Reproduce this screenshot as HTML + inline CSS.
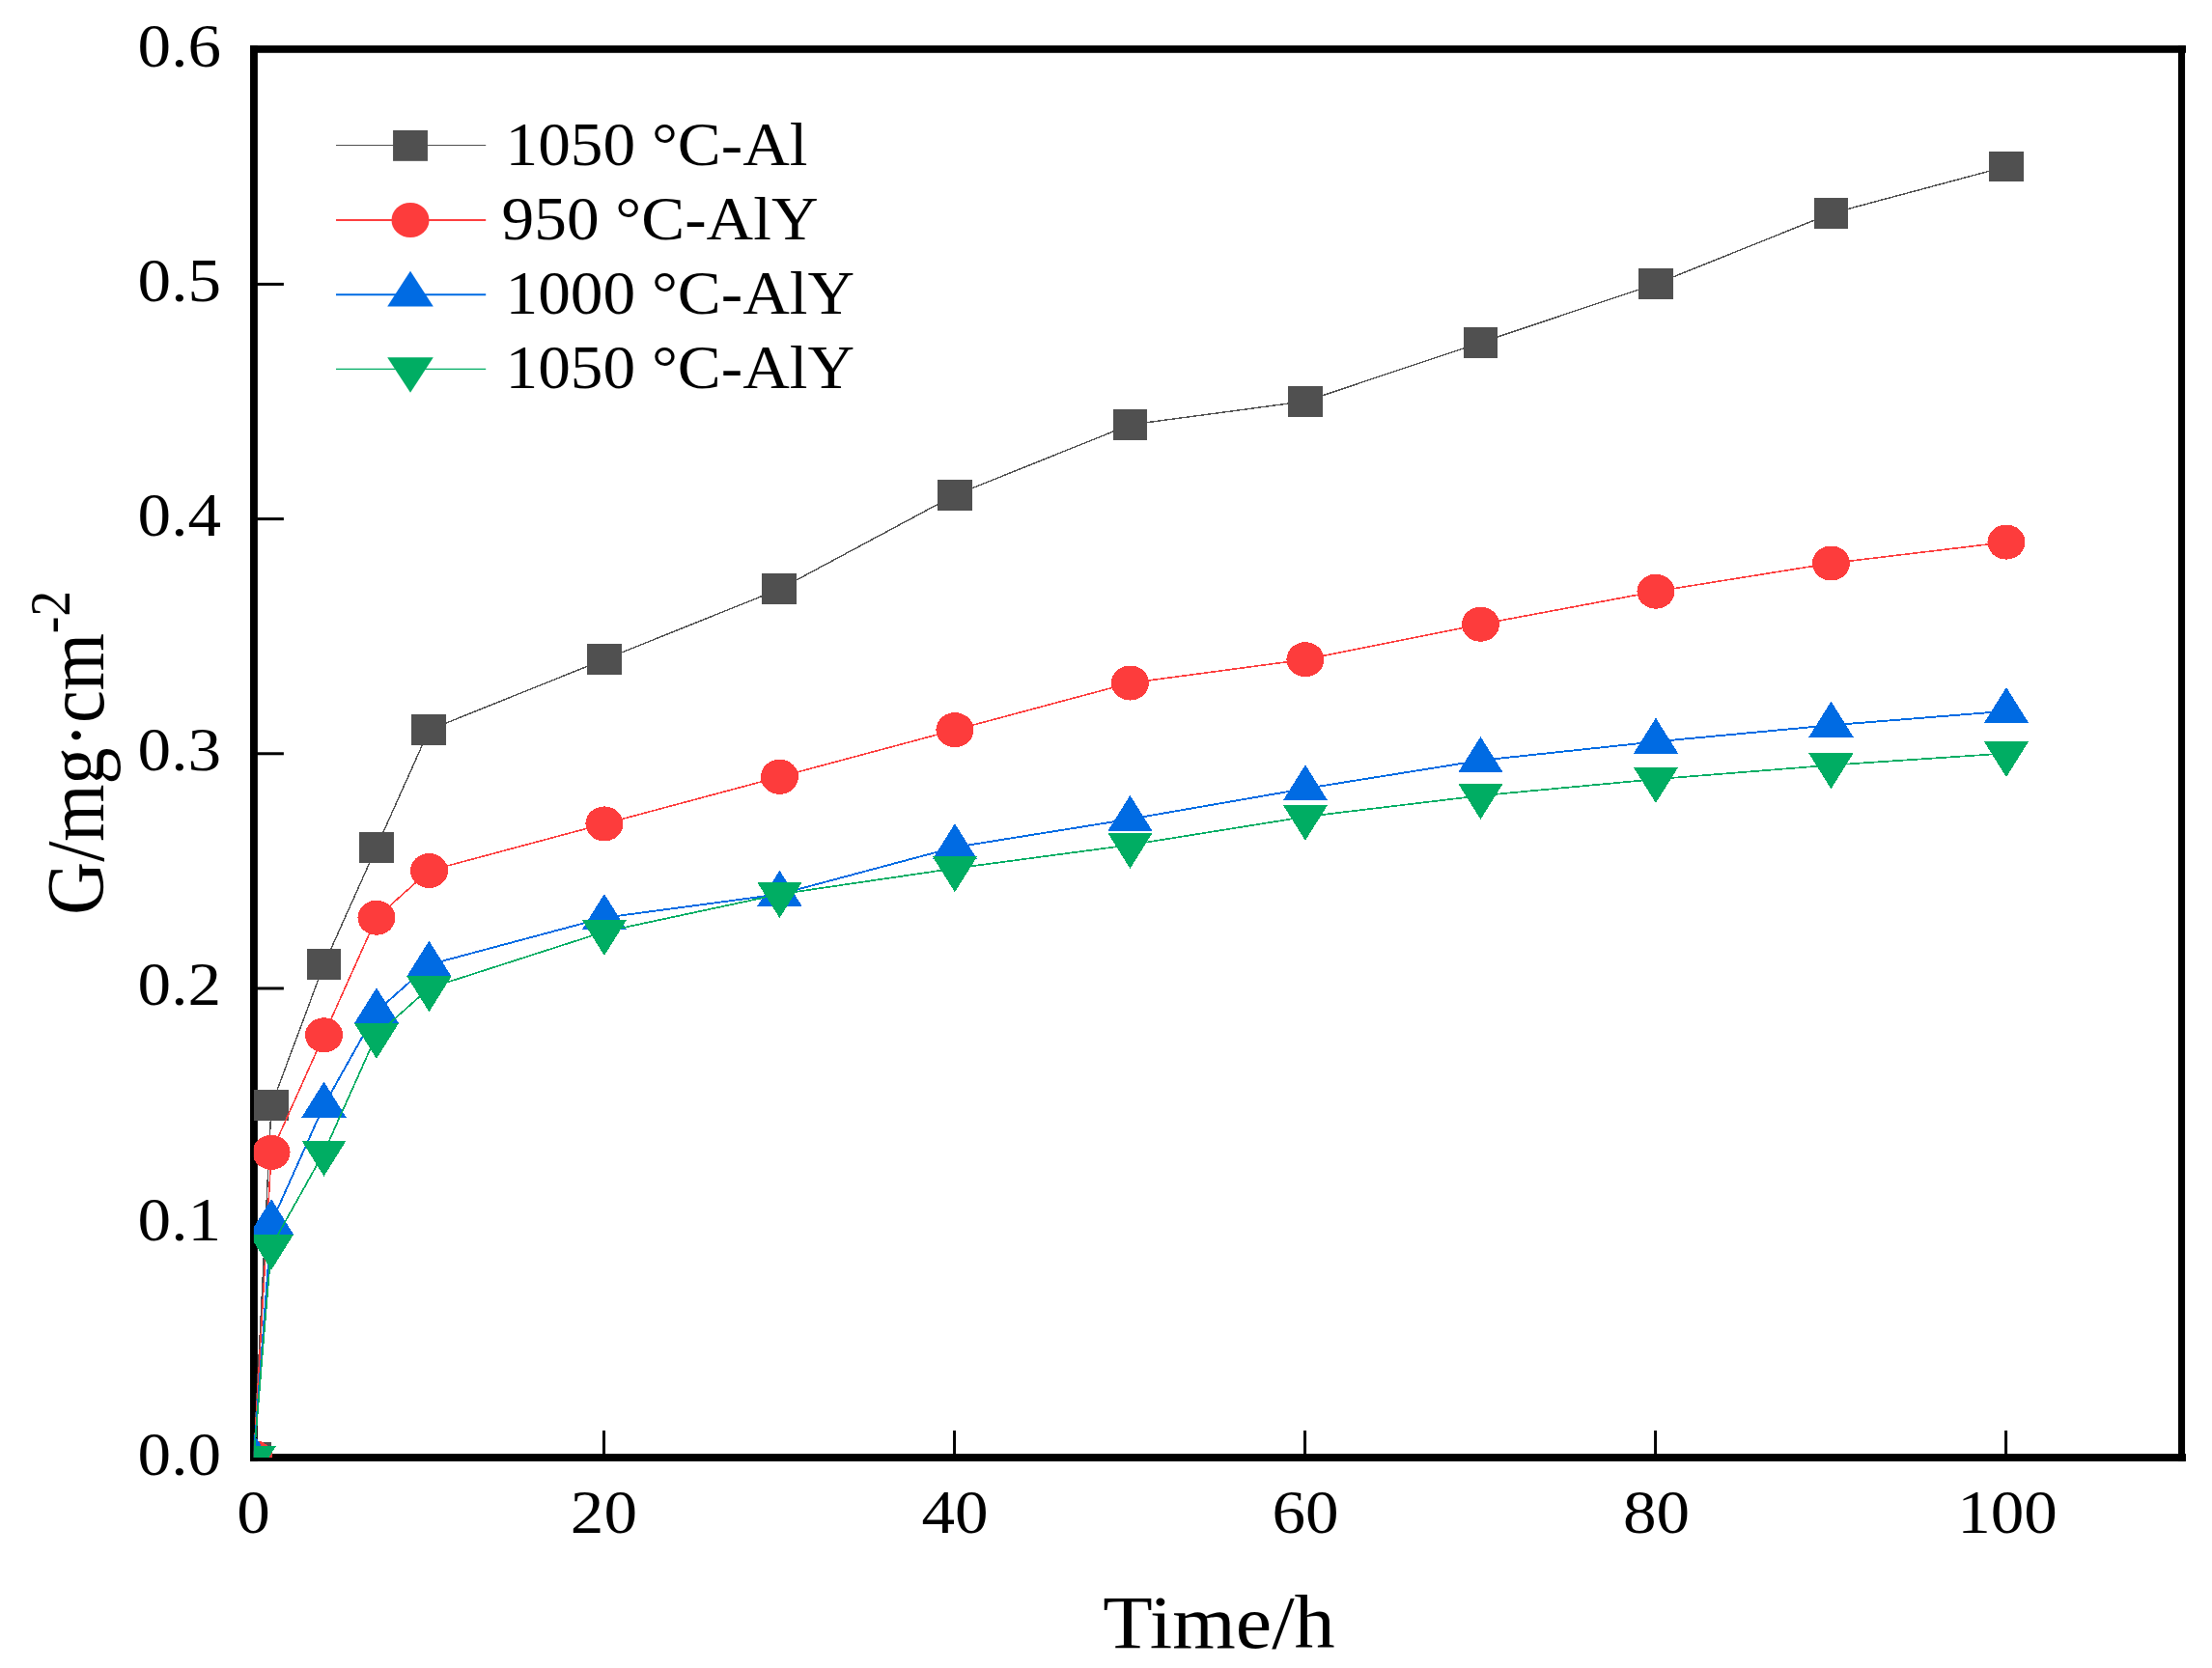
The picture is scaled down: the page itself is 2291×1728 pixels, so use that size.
<!DOCTYPE html>
<html lang="en"><head><meta charset="utf-8"><title>Oxidation kinetics</title>
<style>
html,body{margin:0;padding:0;background:#fff;}
body{width:2291px;height:1728px;overflow:hidden;}
svg{display:block;}
text{font-family:"Liberation Serif",serif;fill:#000;}
.tk{font-size:64px;}
.lg{font-size:62.5px;}
.ti{font-size:78px;}
</style></head><body>
<svg width="2291" height="1728" viewBox="0 0 2291 1728">
<rect x="0" y="0" width="2291" height="1728" fill="#fff"/>
<defs><clipPath id="cp"><rect x="262.90" y="50.95" width="1996.60" height="1459.05"/></clipPath></defs>

<rect x="259" y="47.1" width="7.9" height="1466.8" fill="#000"/>
<rect x="259" y="47.1" width="2005" height="7.7" fill="#000"/>
<rect x="2256" y="47.1" width="7.05" height="1466.8" fill="#000"/>
<rect x="259" y="1506.1" width="2005" height="7.8" fill="#000"/>
<line x1="625.52" y1="1510.00" x2="625.52" y2="1482.00" stroke="#000" stroke-width="3.0"/>
<line x1="988.54" y1="1510.00" x2="988.54" y2="1482.00" stroke="#000" stroke-width="3.0"/>
<line x1="1351.55" y1="1510.00" x2="1351.55" y2="1482.00" stroke="#000" stroke-width="3.0"/>
<line x1="1714.57" y1="1510.00" x2="1714.57" y2="1482.00" stroke="#000" stroke-width="3.0"/>
<line x1="2077.59" y1="1510.00" x2="2077.59" y2="1482.00" stroke="#000" stroke-width="3.0"/>
<line x1="262.90" y1="1267.12" x2="293.9" y2="1267.12" stroke="#000" stroke-width="3.0"/>
<line x1="262.90" y1="1023.95" x2="293.9" y2="1023.95" stroke="#000" stroke-width="3.0"/>
<line x1="262.90" y1="780.77" x2="293.9" y2="780.77" stroke="#000" stroke-width="3.0"/>
<line x1="262.90" y1="537.60" x2="293.9" y2="537.60" stroke="#000" stroke-width="3.0"/>
<line x1="262.90" y1="294.43" x2="293.9" y2="294.43" stroke="#000" stroke-width="3.0"/>
<g clip-path="url(#cp)" shape-rendering="crispEdges">
<polyline points="262.90,1510.00 281.05,1145.24 335.50,999.33 389.96,877.75 444.41,756.16 625.92,683.20 807.43,610.25 988.94,512.98 1170.45,440.03 1351.95,415.71 1533.46,354.92 1714.97,294.12 1896.48,221.17 2077.99,172.54" fill="none" stroke="#505050" stroke-width="1.4" stroke-linejoin="round"/>
<rect x="244.95" y="1494.08" width="35.9" height="31.85" fill="#505050"/>
<rect x="263.10" y="1129.31" width="35.9" height="31.85" fill="#505050"/>
<rect x="317.55" y="983.41" width="35.9" height="31.85" fill="#505050"/>
<rect x="372.01" y="861.82" width="35.9" height="31.85" fill="#505050"/>
<rect x="426.46" y="740.23" width="35.9" height="31.85" fill="#505050"/>
<rect x="607.97" y="667.28" width="35.9" height="31.85" fill="#505050"/>
<rect x="789.48" y="594.33" width="35.9" height="31.85" fill="#505050"/>
<rect x="970.99" y="497.06" width="35.9" height="31.85" fill="#505050"/>
<rect x="1152.50" y="424.10" width="35.9" height="31.85" fill="#505050"/>
<rect x="1334.00" y="399.79" width="35.9" height="31.85" fill="#505050"/>
<rect x="1515.51" y="338.99" width="35.9" height="31.85" fill="#505050"/>
<rect x="1697.02" y="278.20" width="35.9" height="31.85" fill="#505050"/>
<rect x="1878.53" y="205.25" width="35.9" height="31.85" fill="#505050"/>
<rect x="2060.04" y="156.61" width="35.9" height="31.85" fill="#505050"/>
<polyline points="262.90,1510.00 281.05,1193.87 335.50,1072.29 389.96,950.70 444.41,902.06 625.92,853.43 807.43,804.79 988.94,756.16 1170.45,707.52 1351.95,683.20 1533.46,646.73 1714.97,612.68 1896.48,583.50 2077.99,561.62" fill="none" stroke="#FD3C3C" stroke-width="1.6" stroke-linejoin="round"/>
<ellipse cx="262.90" cy="1510.00" rx="19.5" ry="18.0" fill="#FD3C3C"/>
<ellipse cx="281.05" cy="1193.87" rx="19.5" ry="18.0" fill="#FD3C3C"/>
<ellipse cx="335.50" cy="1072.29" rx="19.5" ry="18.0" fill="#FD3C3C"/>
<ellipse cx="389.96" cy="950.70" rx="19.5" ry="18.0" fill="#FD3C3C"/>
<ellipse cx="444.41" cy="902.06" rx="19.5" ry="18.0" fill="#FD3C3C"/>
<ellipse cx="625.92" cy="853.43" rx="19.5" ry="18.0" fill="#FD3C3C"/>
<ellipse cx="807.43" cy="804.79" rx="19.5" ry="18.0" fill="#FD3C3C"/>
<ellipse cx="988.94" cy="756.16" rx="19.5" ry="18.0" fill="#FD3C3C"/>
<ellipse cx="1170.45" cy="707.52" rx="19.5" ry="18.0" fill="#FD3C3C"/>
<ellipse cx="1351.95" cy="683.20" rx="19.5" ry="18.0" fill="#FD3C3C"/>
<ellipse cx="1533.46" cy="646.73" rx="19.5" ry="18.0" fill="#FD3C3C"/>
<ellipse cx="1714.97" cy="612.68" rx="19.5" ry="18.0" fill="#FD3C3C"/>
<ellipse cx="1896.48" cy="583.50" rx="19.5" ry="18.0" fill="#FD3C3C"/>
<ellipse cx="2077.99" cy="561.62" rx="19.5" ry="18.0" fill="#FD3C3C"/>
<polyline points="262.90,1510.00 281.05,1266.83 335.50,1145.24 389.96,1047.97 444.41,999.33 625.92,950.70 807.43,926.38 988.94,877.75 1170.45,848.56 1351.95,816.95 1533.46,787.77 1714.97,768.32 1896.48,751.29 2077.99,736.70" fill="none" stroke="#006BE3" stroke-width="1.9" stroke-linejoin="round"/>
<polygon points="262.90,1485.33 286.05,1522.33 239.75,1522.33" fill="#006BE3"/>
<polygon points="281.05,1242.16 304.20,1279.16 257.90,1279.16" fill="#006BE3"/>
<polygon points="335.50,1120.57 358.65,1157.57 312.35,1157.57" fill="#006BE3"/>
<polygon points="389.96,1023.30 413.11,1060.30 366.81,1060.30" fill="#006BE3"/>
<polygon points="444.41,974.67 467.56,1011.67 421.26,1011.67" fill="#006BE3"/>
<polygon points="625.92,926.03 649.07,963.03 602.77,963.03" fill="#006BE3"/>
<polygon points="807.43,901.71 830.58,938.71 784.28,938.71" fill="#006BE3"/>
<polygon points="988.94,853.08 1012.09,890.08 965.79,890.08" fill="#006BE3"/>
<polygon points="1170.45,823.90 1193.60,860.90 1147.30,860.90" fill="#006BE3"/>
<polygon points="1351.95,792.28 1375.10,829.28 1328.80,829.28" fill="#006BE3"/>
<polygon points="1533.46,763.10 1556.61,800.10 1510.31,800.10" fill="#006BE3"/>
<polygon points="1714.97,743.65 1738.12,780.65 1691.82,780.65" fill="#006BE3"/>
<polygon points="1896.48,726.63 1919.63,763.63 1873.33,763.63" fill="#006BE3"/>
<polygon points="2077.99,712.04 2101.14,749.04 2054.84,749.04" fill="#006BE3"/>
<polyline points="262.90,1510.00 281.05,1291.14 335.50,1193.87 389.96,1072.29 444.41,1023.65 625.92,965.29 807.43,926.38 988.94,899.63 1170.45,875.31 1351.95,846.13 1533.46,824.25 1714.97,807.22 1896.48,792.63 2077.99,780.48" fill="none" stroke="#00AD63" stroke-width="1.7" stroke-linejoin="round"/>
<polygon points="262.90,1534.67 286.05,1497.67 239.75,1497.67" fill="#00AD63"/>
<polygon points="281.05,1315.81 304.20,1278.81 257.90,1278.81" fill="#00AD63"/>
<polygon points="335.50,1218.54 358.65,1181.54 312.35,1181.54" fill="#00AD63"/>
<polygon points="389.96,1096.95 413.11,1059.95 366.81,1059.95" fill="#00AD63"/>
<polygon points="444.41,1048.32 467.56,1011.32 421.26,1011.32" fill="#00AD63"/>
<polygon points="625.92,989.95 649.07,952.95 602.77,952.95" fill="#00AD63"/>
<polygon points="807.43,951.05 830.58,914.05 784.28,914.05" fill="#00AD63"/>
<polygon points="988.94,924.30 1012.09,887.30 965.79,887.30" fill="#00AD63"/>
<polygon points="1170.45,899.98 1193.60,862.98 1147.30,862.98" fill="#00AD63"/>
<polygon points="1351.95,870.80 1375.10,833.80 1328.80,833.80" fill="#00AD63"/>
<polygon points="1533.46,848.91 1556.61,811.91 1510.31,811.91" fill="#00AD63"/>
<polygon points="1714.97,831.89 1738.12,794.89 1691.82,794.89" fill="#00AD63"/>
<polygon points="1896.48,817.30 1919.63,780.30 1873.33,780.30" fill="#00AD63"/>
<polygon points="2077.99,805.14 2101.14,768.14 2054.84,768.14" fill="#00AD63"/>
</g>
<text class="tk" transform="translate(262.40,1588.30) scale(1.08,1)" text-anchor="middle">0</text>
<text class="tk" transform="translate(625.42,1588.30) scale(1.08,1)" text-anchor="middle">20</text>
<text class="tk" transform="translate(988.94,1588.30) scale(1.08,1)" text-anchor="middle">40</text>
<text class="tk" transform="translate(1351.95,1588.30) scale(1.08,1)" text-anchor="middle">60</text>
<text class="tk" transform="translate(1715.47,1588.30) scale(1.08,1)" text-anchor="middle">80</text>
<text class="tk" transform="translate(2078.99,1588.30) scale(1.08,1)" text-anchor="middle">100</text>
<text class="tk" transform="translate(229.00,1527.70) scale(1.08,1)" text-anchor="end">0.0</text>
<text class="tk" transform="translate(229.00,1284.53) scale(1.08,1)" text-anchor="end">0.1</text>
<text class="tk" transform="translate(229.00,1041.35) scale(1.08,1)" text-anchor="end">0.2</text>
<text class="tk" transform="translate(229.00,798.18) scale(1.08,1)" text-anchor="end">0.3</text>
<text class="tk" transform="translate(229.00,555.00) scale(1.08,1)" text-anchor="end">0.4</text>
<text class="tk" transform="translate(229.00,311.82) scale(1.08,1)" text-anchor="end">0.5</text>
<text class="tk" transform="translate(229.00,68.65) scale(1.08,1)" text-anchor="end">0.6</text>
<text class="ti" transform="translate(1262.50,1707.00) scale(1.08,1)" text-anchor="middle">Time/h</text>
<text class="ti" style="font-size:76.1px" transform="translate(106.8,779.9) scale(1.10,1) rotate(-90)" text-anchor="middle">G/mg·cm<tspan font-size="53" dy="-31.5">-2</tspan></text>
<line x1="348" y1="150.5" x2="503.2" y2="150.5" stroke="#505050" stroke-width="1.1"/>
<rect x="407.05" y="134.97" width="35.9" height="31.85" fill="#505050"/>
<text class="lg" transform="translate(523.50,170.60) scale(1.077,1)" text-anchor="start">1050 °C-Al</text>
<line x1="348" y1="228" x2="503.2" y2="228" stroke="#FD3C3C" stroke-width="1.8"/>
<ellipse cx="425.00" cy="228.00" rx="19.5" ry="18.0" fill="#FD3C3C"/>
<text class="lg" transform="translate(519.60,247.80) scale(1.077,1)" text-anchor="start">950 °C-AlY</text>
<line x1="348" y1="305.2" x2="503.2" y2="305.2" stroke="#006BE3" stroke-width="2.0"/>
<polygon points="425.00,280.80 448.80,317.40 401.20,317.40" fill="#006BE3"/>
<text class="lg" transform="translate(523.50,325.00) scale(1.077,1)" text-anchor="start">1000 °C-AlY</text>
<line x1="348" y1="382.4" x2="503.2" y2="382.4" stroke="#00AD63" stroke-width="1.1"/>
<polygon points="425.00,406.80 448.80,370.20 401.20,370.20" fill="#00AD63"/>
<text class="lg" transform="translate(523.50,401.80) scale(1.077,1)" text-anchor="start">1050 °C-AlY</text>
</svg></body></html>
